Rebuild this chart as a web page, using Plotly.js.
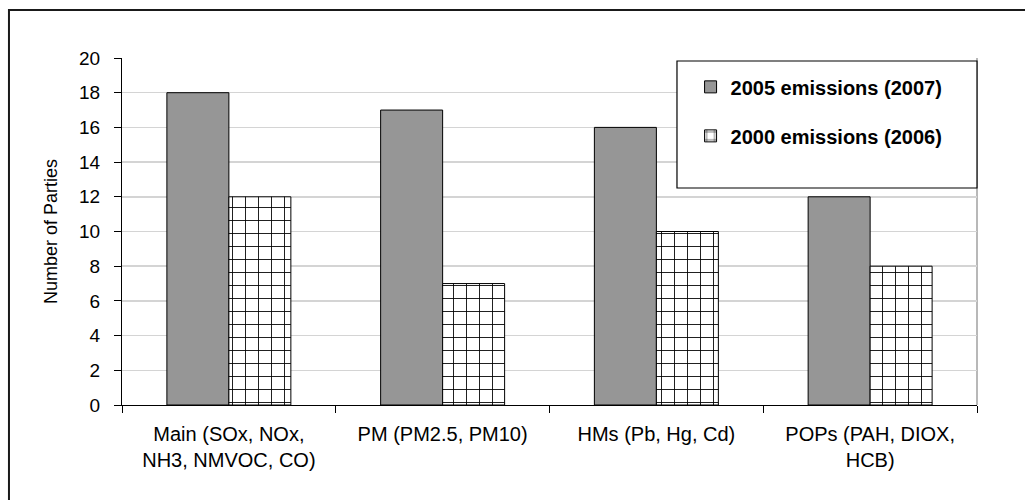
<!DOCTYPE html>
<html>
<head>
<meta charset="utf-8">
<script src="https://cdn.plot.ly/plotly-3.0.1.min.js"></script>
<style>
  html, body { margin: 0; padding: 0; background: #ffffff; }
  #chart { width: 1025px; height: 500px; }
</style>
</head>
<body>
<div id="chart"></div>
<script>
// Pollutant groups reported by Parties
const categories = [
  'Main (SOx, NOx,<br>NH3, NMVOC, CO)',
  'PM (PM2.5, PM10)',
  'HMs (Pb, Hg, Cd)',
  'POPs (PAH, DIOX,<br>HCB)'
];
const seriesNames = ['2005 emissions (2007)', '2000 emissions (2006)'];
const emissions2005 = [18, 17, 16, 12];
const emissions2000 = [12, 7, 10, 8];
const yTickValues = [0, 2, 4, 6, 8, 10, 12, 14, 16, 18, 20];

const FONT = 'Liberation Sans, Arial, sans-serif';

const traces = [
  {
    type: 'bar',
    name: seriesNames[0],
    x: categories,
    y: emissions2005,
    legendgroup: 'a',
    marker: { color: '#969696', line: { color: '#000000', width: 1 } },
    hoverinfo: 'y'
  },
  {
    type: 'bar',
    name: seriesNames[1],
    x: categories,
    y: emissions2000,
    legendgroup: 'b',
    marker: {
      color: '#ffffff',
      line: { color: '#000000', width: 1 },
      pattern: { shape: '+', size: 13, solidity: 0.13, fgcolor: '#000000', bgcolor: '#ffffff' }
    },
    hoverinfo: 'y'
  }
];

const layout = {
  width: 1025,
  height: 500,
  margin: { l: 122, r: 48, t: 58, b: 95 },
  paper_bgcolor: '#ffffff',
  plot_bgcolor: '#ffffff',
  font: { family: FONT, color: '#000000', size: 18 },
  barmode: 'group',
  bargap: 0.42,
  bargroupgap: 0,
  showlegend: true,
  legend: {
    x: 0.665, xanchor: 'left',
    y: 0.973, yanchor: 'top',
    bgcolor: 'rgba(0,0,0,0)',
    borderwidth: 0,
    tracegroupgap: 20,
    font: { family: FONT, size: 20, color: '#000000', weight: 'bold' }
  },
  xaxis: {
    type: 'category',
    tickson: 'boundaries',
    ticks: 'outside',
    ticklen: 7,
    tickcolor: '#000000',
    showline: true,
    linecolor: '#000000',
    linewidth: 1,
    showgrid: false,
    ticklabelstandoff: 11,
    tickfont: { family: FONT, size: 20, color: '#000000' }
  },
  yaxis: {
    range: [0, 20],
    tickvals: yTickValues,
    ticks: 'outside',
    ticklen: 7,
    tickcolor: '#000000',
    showline: true,
    linecolor: '#000000',
    linewidth: 1,
    showgrid: true,
    gridcolor: '#d4d4d4',
    gridwidth: 1.5,
    zeroline: false,
    ticklabelstandoff: 10,
    tickfont: { family: FONT, size: 19, color: '#000000' },
    title: { text: 'Number of Parties', standoff: 16, font: { family: FONT, size: 18, color: '#000000' } }
  },
  shapes: [
    // frame around the whole chart
    { type: 'rect', xref: 'paper', yref: 'paper', x0: -0.1322, x1: 1.2, y0: -0.5, y1: 1.138,
      line: { color: '#1a1a1a', width: 2 }, fillcolor: 'rgba(0,0,0,0)', layer: 'above' },
    // right edge of the plot area
    { type: 'line', xref: 'paper', yref: 'paper', x0: 1, x1: 1, y0: 0, y1: 1,
      line: { color: '#a0a0a0', width: 1.5 }, layer: 'below' },
    // legend box
    { type: 'rect', xref: 'paper', yref: 'paper', x0: 0.6491, x1: 1.0, y0: 0.6254, y1: 0.9914,
      line: { color: '#000000', width: 1.2 }, fillcolor: '#ffffff', layer: 'above' }
  ]
};

Plotly.newPlot('chart', traces, layout, { staticPlot: true, displayModeBar: false });
</script>
</body>
</html>
